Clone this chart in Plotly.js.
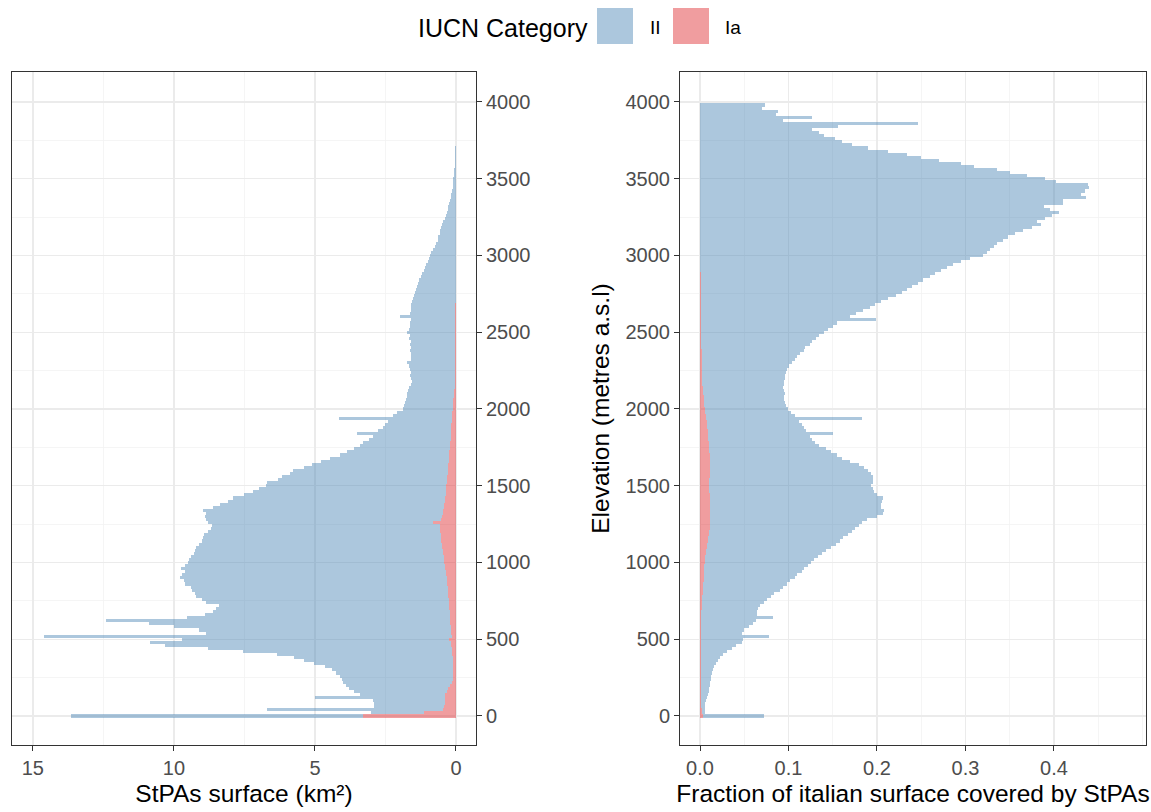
<!DOCTYPE html>
<html>
<head>
<meta charset="utf-8">
<script src="https://cdn.plot.ly/plotly-3.0.1.min.js"></script>
<style>html,body{margin:0;padding:0;background:#fff;}#chart{width:1151px;height:812px;}</style>
</head>
<body>
<div id="chart"></div>
<script>
// Elevation bins: 20 m wide, starting at 0 m (bin centres)
const binStartElevation = 0;
const binStepElevation = 20;

// Left panel: StPAs surface (km²) per elevation bin, IUCN category II (rows of 10 bins = 200 m)
const surfaceII = [
  10.35, 1.85, 6.25, 2.48, 2.5, 2.55, 4.6, 3.02, 3.28, 3.52,      // 0
  3.68, 3.85, 3.93, 3.99, 4.15, 4.3, 4.55, 4.95, 5.29, 5.63,      // 200
  6.22, 7.41, 8.65, 10.14, 10.67, 9.46, 14.45, 8.67, 8.92, 9.81,  // 400
  10.7, 12.2, 9.34, 8.68, 8.38, 8.27, 8.16, 8.6, 8.74, 8.93,      // 600
  8.97, 9.06, 9.1, 9.29, 9.33, 9.44, 9.35, 9.23, 9.37, 9.2,       // 800
  9.09, 9.02, 8.96, 8.84, 8.78, 8.71, 8.6, 8.48, 8.45, 8.38,      // 1000
  8.25, 8.14, 8.09, 8.0, 8.33, 8.4, 8.38, 8.51, 8.17, 7.95,       // 1200
  7.7, 7.51, 7.13, 6.84, 6.65, 6.41, 6.37, 5.98, 5.87, 5.6,       // 1400
  5.48, 5.12, 4.83, 4.54, 4.22, 3.86, 3.65, 3.38, 3.19, 3.1,      // 1600
  2.91, 2.77, 3.35, 2.58, 2.44, 2.34, 2.25, 3.99, 2.11, 1.97,     // 1800
  1.75, 1.74, 1.7, 1.69, 1.67, 1.66, 1.64, 1.6, 1.55, 1.53,       // 2000
  1.56, 1.58, 1.56, 1.58, 1.61, 1.68, 1.56, 1.54, 1.56, 1.58,     // 2200
  1.56, 1.58, 1.56, 1.61, 1.59, 1.71, 1.61, 1.59, 1.58, 1.56,     // 2400
  1.95, 1.58, 1.57, 1.57, 1.55, 1.55, 1.52, 1.5, 1.45, 1.4,       // 2600
  1.38, 1.33, 1.3, 1.25, 1.22, 1.15, 1.1, 1.05, 1.0, 0.97,        // 2800
  0.93, 0.88, 0.8, 0.75, 0.7, 0.65, 0.62, 0.58, 0.55, 0.52,       // 3000
  0.49, 0.45, 0.4, 0.37, 0.33, 0.3, 0.27, 0.24, 0.21, 0.18,       // 3200
  0.16, 0.14, 0.12, 0.11, 0.1, 0.09, 0.08, 0.07, 0.06, 0.05,      // 3400
  0.04, 0.04, 0.03, 0.03, 0.02, 0.02, 0.015, 0.01, 0.01, 0.01,    // 3600
  0.005, 0.005, 0.005, 0.003, 0, 0, 0, 0, 0, 0                    // 3800
];

// Left panel: StPAs surface (km²), IUCN category Ia
const surfaceIa = [
  3.3, 1.15, 0.45, 0.42, 0.4, 0.4, 0.4, 0.38, 0.32, 0.28,         // 0
  0.22, 0.15, 0.12, 0.11, 0.1, 0.1, 0.1, 0.1, 0.11, 0.12,         // 200
  0.13, 0.14, 0.15, 0.16, 0.18, 0.24, 0.15, 0.18, 0.18, 0.19,     // 400
  0.2, 0.2, 0.21, 0.22, 0.22, 0.23, 0.24, 0.25, 0.26, 0.27,       // 600
  0.28, 0.29, 0.3, 0.31, 0.32, 0.33, 0.35, 0.37, 0.38, 0.4,       // 800
  0.41, 0.43, 0.44, 0.46, 0.47, 0.49, 0.5, 0.52, 0.53, 0.54,      // 1000
  0.55, 0.56, 0.57, 0.8, 0.52, 0.5, 0.47, 0.45, 0.43, 0.42,       // 1200
  0.4, 0.39, 0.37, 0.36, 0.35, 0.34, 0.33, 0.32, 0.31, 0.3,       // 1400
  0.29, 0.28, 0.27, 0.26, 0.25, 0.24, 0.23, 0.22, 0.21, 0.2,      // 1600
  0.19, 0.18, 0.17, 0.17, 0.16, 0.16, 0.15, 0.15, 0.14, 0.13,     // 1800
  0.12, 0.11, 0.1, 0.09, 0.08, 0.07, 0.06, 0.05, 0.05, 0.04,      // 2000
  0.04, 0.04, 0.04, 0.04, 0.04, 0.04, 0.04, 0.04, 0.04, 0.04,     // 2200
  0.04, 0.04, 0.04, 0.04, 0.04, 0.04, 0.04, 0.04, 0.04, 0.04,     // 2400
  0.04, 0.04, 0.03, 0.03, 0.03, 0, 0, 0, 0, 0                     // 2600
];

// Right panel: fraction of Italian surface covered by StPAs, category II
const fractionII = [
  0.069, 0.004, 0.004, 0.005, 0.005, 0.006, 0.007, 0.008, 0.009, 0.009,       // 0
  0.01, 0.01, 0.011, 0.011, 0.012, 0.014, 0.015, 0.017, 0.019, 0.022,        // 200
  0.025, 0.029, 0.035, 0.04, 0.046, 0.048, 0.077, 0.046, 0.049, 0.054,       // 400
  0.059, 0.062, 0.081, 0.063, 0.063, 0.064, 0.066, 0.07, 0.074, 0.078,       // 600
  0.081, 0.087, 0.091, 0.095, 0.098, 0.103, 0.106, 0.11, 0.113, 0.117,       // 800
  0.119, 0.123, 0.127, 0.131, 0.135, 0.14, 0.146, 0.149, 0.153, 0.157,       // 1000
  0.162, 0.164, 0.169, 0.172, 0.178, 0.189, 0.196, 0.197, 0.194, 0.194,      // 1200
  0.195, 0.196, 0.189, 0.187, 0.185, 0.183, 0.185, 0.186, 0.184, 0.182,      // 1400
  0.179, 0.174, 0.169, 0.159, 0.149, 0.144, 0.138, 0.132, 0.125, 0.12,       // 1600
  0.118, 0.115, 0.141, 0.111, 0.109, 0.107, 0.104, 0.176, 0.1, 0.097,        // 1800
  0.094, 0.092, 0.091, 0.091, 0.091, 0.093, 0.092, 0.091, 0.093, 0.093,      // 2000
  0.094, 0.094, 0.095, 0.096, 0.099, 0.102, 0.105, 0.108, 0.111, 0.115,      // 2200
  0.1175, 0.1225, 0.1255, 0.1295, 0.1335, 0.1385, 0.1435, 0.1485, 0.1535, 0.1975, // 2400
  0.169, 0.175, 0.183, 0.191, 0.197, 0.204, 0.211, 0.22, 0.227, 0.233,       // 2600
  0.239, 0.245, 0.251, 0.2592, 0.2652, 0.2715, 0.2785, 0.286, 0.295, 0.305,  // 2800
  0.32, 0.324, 0.328, 0.332, 0.336, 0.342, 0.348, 0.356, 0.365, 0.375,       // 3000
  0.385, 0.381, 0.39, 0.398, 0.406, 0.395, 0.389, 0.41, 0.41, 0.436,         // 3200
  0.43, 0.435, 0.44, 0.439, 0.402, 0.39, 0.369, 0.35, 0.336, 0.31,           // 3400
  0.295, 0.27, 0.25, 0.234, 0.213, 0.19, 0.172, 0.16, 0.152, 0.14,           // 3600
  0.135, 0.127, 0.156, 0.246, 0.094, 0.127, 0.086, 0.088, 0.07, 0.074        // 3800
];

// Right panel: fraction of Italian surface covered by StPAs, category Ia
const fractionIa = [
  0.003, 0.002, 0.002, 0.001, 0.001, 0.001, 0.001, 0.001, 0.001, 0.001,      // 0
  0.001, 0.001, 0.001, 0.001, 0.001, 0.001, 0.001, 0.001, 0.001, 0.001,      // 200
  0.001, 0.001, 0.001, 0.001, 0.001, 0.001, 0.001, 0.001, 0.001, 0.001,      // 400
  0.001, 0.001, 0.001, 0.001, 0.001, 0.002, 0.002, 0.002, 0.002, 0.002,      // 600
  0.003, 0.003, 0.003, 0.003, 0.004, 0.004, 0.004, 0.005, 0.005, 0.005,      // 800
  0.006, 0.006, 0.006, 0.007, 0.007, 0.008, 0.008, 0.009, 0.009, 0.01,       // 1000
  0.01, 0.011, 0.011, 0.011, 0.011, 0.011, 0.011, 0.011, 0.011, 0.011,       // 1200
  0.011, 0.011, 0.011, 0.01, 0.01, 0.01, 0.01, 0.01, 0.011, 0.011,           // 1400
  0.011, 0.011, 0.011, 0.011, 0.011, 0.011, 0.01, 0.01, 0.01, 0.01,          // 1600
  0.009, 0.009, 0.009, 0.009, 0.008, 0.008, 0.008, 0.007, 0.007, 0.006,      // 1800
  0.006, 0.005, 0.005, 0.004, 0.004, 0.003, 0.003, 0.003, 0.002, 0.002,      // 2000
  0.002, 0.002, 0.002, 0.002, 0.002, 0.002, 0.002, 0.002, 0.002, 0.002,      // 2200
  0.0015, 0.0015, 0.0015, 0.0015, 0.0015, 0.0015, 0.0015, 0.0015, 0.0015, 0.0015, // 2400
  0.001, 0.001, 0.001, 0.001, 0.001, 0.001, 0.001, 0.001, 0.001, 0.001,      // 2600
  0.001, 0.001, 0.001, 0.0008, 0.0008, 0.0005, 0.0005, 0, 0, 0               // 2800
];

const categoryNames = ['II', 'Ia'];
const legendTitle = 'IUCN Category';
const leftTicks = [0, 5, 10, 15];
const elevationTicks = [0, 500, 1000, 1500, 2000, 2500, 3000, 3500, 4000];
const rightTicks = [0, 0.1, 0.2, 0.3, 0.4];

// Bin centres (category axis)
const nBins = Math.max(surfaceII.length, fractionII.length);
const elevation = [];
for (let i = 0; i < nBins; i++) elevation.push(binStartElevation + i * binStepElevation);

const colII = 'rgba(70,130,180,0.45)';
const colIa = 'rgba(222,37,42,0.45)';
const FONT = '"Liberation Sans", Arial, Helvetica, sans-serif';

function bar(vals, name, color, xa, ya) {
  return {
    type: 'bar', orientation: 'h',
    x: vals, y: elevation.slice(0, vals.length),
    width: binStepElevation,
    name: name, legendgroup: name, showlegend: false,
    marker: {color: color, line: {width: 0}},
    xaxis: xa, yaxis: ya, hoverinfo: 'x+y+name'
  };
}

// Ia first so it sits at the base of each stacked bar (next to zero)
const traces = [
  bar(surfaceIa, categoryNames[1], colIa, 'x', 'y'),
  bar(surfaceII, categoryNames[0], colII, 'x', 'y'),
  bar(fractionIa, categoryNames[1], colIa, 'x2', 'y2'),
  bar(fractionII, categoryNames[0], colII, 'x2', 'y2')
];

const W = 1151, H = 812;
const gridCol = '#EBEBEB', minorCol = '#F3F3F3', lineCol = '#333333', tickFontCol = '#4D4D4D';
const tickFont = {family: FONT, size: 20, color: tickFontCol};
const titleFont = {family: FONT, size: 24.5, color: '#000'};

// Legend drawn as large keys (like the reference) with paper-positioned text
const legendKeys = [
  {label: categoryNames[0], color: colII, x0: 597, x1: 633, tx: 648},
  {label: categoryNames[1], color: colIa, x0: 673, x1: 709, tx: 723}
];
const shapes = legendKeys.map(k => ({
  type: 'rect', xref: 'paper', yref: 'paper',
  x0: k.x0 / W, x1: k.x1 / W, y0: 1 - 44 / H, y1: 1 - 8 / H,
  fillcolor: k.color, line: {width: 0}, layer: 'above'
}));
const annotations = [
  {text: legendTitle, xref: 'paper', yref: 'paper', x: 416 / W, y: 1 - 28 / H,
   xanchor: 'left', yanchor: 'middle', showarrow: false,
   font: {family: FONT, size: 25, color: '#000'}}
].concat(legendKeys.map(k => ({
  text: k.label, xref: 'paper', yref: 'paper', x: k.tx / W, y: 1 - 28 / H,
  xanchor: 'left', yanchor: 'middle', showarrow: false,
  font: {family: FONT, size: 19, color: '#000'}
})));

const yRange = [-189, 4195];
const commonAxis = {
  showline: true, mirror: true, linecolor: lineCol, linewidth: 1,
  ticks: 'outside', ticklen: 5, tickcolor: lineCol, tickwidth: 1,
  showgrid: true, gridcolor: gridCol, gridwidth: 1.3,
  zeroline: false, tickfont: tickFont, fixedrange: true
};

const layout = {
  width: W, height: H,
  margin: {l: 0, r: 0, t: 0, b: 0},
  paper_bgcolor: '#fff', plot_bgcolor: '#fff',
  font: {family: FONT},
  barmode: 'stack', bargap: 0,
  showlegend: false,
  shapes: shapes,
  annotations: annotations,
  xaxis: Object.assign({}, commonAxis, {
    domain: [12 / W, 476 / W], anchor: 'y',
    range: [15.74, -0.71], tickvals: leftTicks, ticktext: leftTicks.map(String),
    minor: {tickvals: [2.5, 7.5, 12.5], showgrid: true, gridcolor: minorCol, gridwidth: 0.8, ticks: ''},
    title: {text: 'StPAs surface (km²)', font: titleFont, standoff: 6}
  }),
  yaxis: Object.assign({}, commonAxis, {
    domain: [(H - 745) / H, (H - 72) / H], anchor: 'x', side: 'right',
    range: yRange, tickvals: elevationTicks,
    minor: {dtick: 250, tick0: 250, showgrid: true, gridcolor: minorCol, gridwidth: 0.8, ticks: ''}
  }),
  xaxis2: Object.assign({}, commonAxis, {
    domain: [680 / W, 1146 / W], anchor: 'y2',
    range: [-0.0226, 0.504], tickvals: rightTicks, tickformat: '.1f',
    minor: {dtick: 0.05, tick0: 0.05, showgrid: true, gridcolor: minorCol, gridwidth: 0.8, ticks: ''},
    title: {text: 'Fraction of italian surface covered by StPAs', font: titleFont, standoff: 6}
  }),
  yaxis2: Object.assign({}, commonAxis, {
    domain: [(H - 745) / H, (H - 72) / H], anchor: 'x2', side: 'left',
    range: yRange, tickvals: elevationTicks,
    minor: {dtick: 250, tick0: 250, showgrid: true, gridcolor: minorCol, gridwidth: 0.8, ticks: ''},
    title: {text: 'Elevation (metres a.s.l)', font: titleFont, standoff: 8}
  })
};

Plotly.newPlot('chart', traces, layout, {displayModeBar: false, staticPlot: true});
</script>
</body>
</html>
